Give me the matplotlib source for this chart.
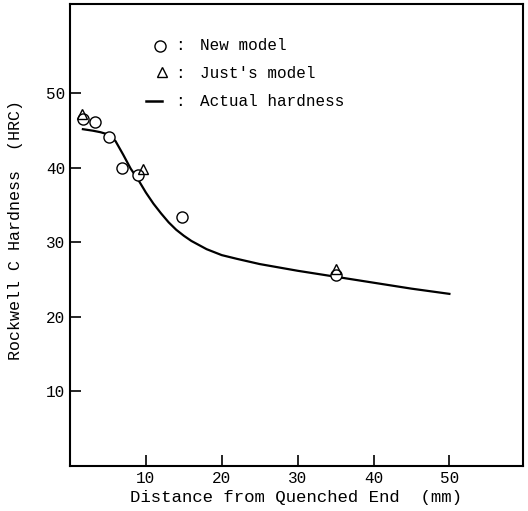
import matplotlib
matplotlib.use("Agg")
import matplotlib.pyplot as plt

# Data
new_x = [1.7, 3.3, 5.2, 6.9, 8.9, 14.8, 35.0]
new_y = [46.6, 46.1, 44.2, 40.0, 39.1, 33.4, 25.6]
just_x = [1.6, 9.6, 35.0]
just_y = [47.2, 39.8, 26.5]
act_x = [1.7, 3, 4, 5, 6, 7, 8, 9, 10, 11, 12, 13, 14, 15, 16, 18, 20, 22, 25, 30, 35, 40, 45, 50]
act_y = [45.2, 45.0, 44.8, 44.5, 43.6, 41.8, 39.9, 38.4, 36.7, 35.2, 33.9, 32.7, 31.7, 30.9,
         30.2, 29.1, 28.3, 27.8, 27.1, 26.2, 25.4, 24.6, 23.8, 23.1]
xticks = [10, 20, 30, 40, 50]
yticks = [10, 20, 30, 40, 50]

plt.rcParams['font.family'] = ['Liberation Mono', 'DejaVu Sans Mono']
fig = plt.figure(figsize=(5.28, 5.11), dpi=100)
ax = fig.add_axes([70/528, 45/511, 453/528, 462/511])

ax.plot(act_x, act_y, color='black', lw=1.6, solid_joinstyle='round')
ax.plot(new_x, new_y, 'o', ms=8, mfc='white', mec='black', mew=1.0, ls='none')
ax.plot(just_x, just_y, '^', ms=7, mfc='none', mec='black', mew=1.0, ls='none')

ax.set_xlim(0, 59.7)
ax.set_ylim(0, 62)
ax.set_xticks(xticks)
ax.set_yticks(yticks)
ax.tick_params(direction='in', length=8, width=1.2, labelsize=11.5)
for s in ax.spines.values():
    s.set_linewidth(1.5)

ax.set_xlabel('Distance from Quenched End  (mm)', fontsize=12.5, labelpad=3)
ax.set_ylabel('Rockwell C Hardness  (HRC)', fontsize=12)
ax.yaxis.set_label_coords(-47/453, (466 - 230) / 462)

# Manual legend
def px(x, y):
    return ((x - 70) / 453, (466 - y) / 462)

fs = 11.5
ax.plot(*px(160, 46), 'o', ms=8, mfc='white', mec='black', mew=1.0, transform=ax.transAxes, clip_on=False)
ax.text(*px(175, 46), ':', transform=ax.transAxes, va='center', fontsize=fs)
ax.text(*px(200, 46), 'New model', transform=ax.transAxes, va='center', fontsize=fs)
ax.plot(*px(162, 72), '^', ms=7, mfc='none', mec='black', mew=1.0, transform=ax.transAxes, clip_on=False)
ax.text(*px(175, 73), ':', transform=ax.transAxes, va='center', fontsize=fs)
ax.text(*px(200, 73), "Just's model", transform=ax.transAxes, va='center', fontsize=fs)
x0, y0 = px(146, 101)
x1, _ = px(162, 101)
ax.plot([x0, x1], [y0, y0], color='black', lw=1.8, transform=ax.transAxes)
ax.text(*px(175, 101), ':', transform=ax.transAxes, va='center', fontsize=fs)
ax.text(*px(200, 101), 'Actual hardness', transform=ax.transAxes, va='center', fontsize=fs)

fig.savefig('out.png', dpi=100)
